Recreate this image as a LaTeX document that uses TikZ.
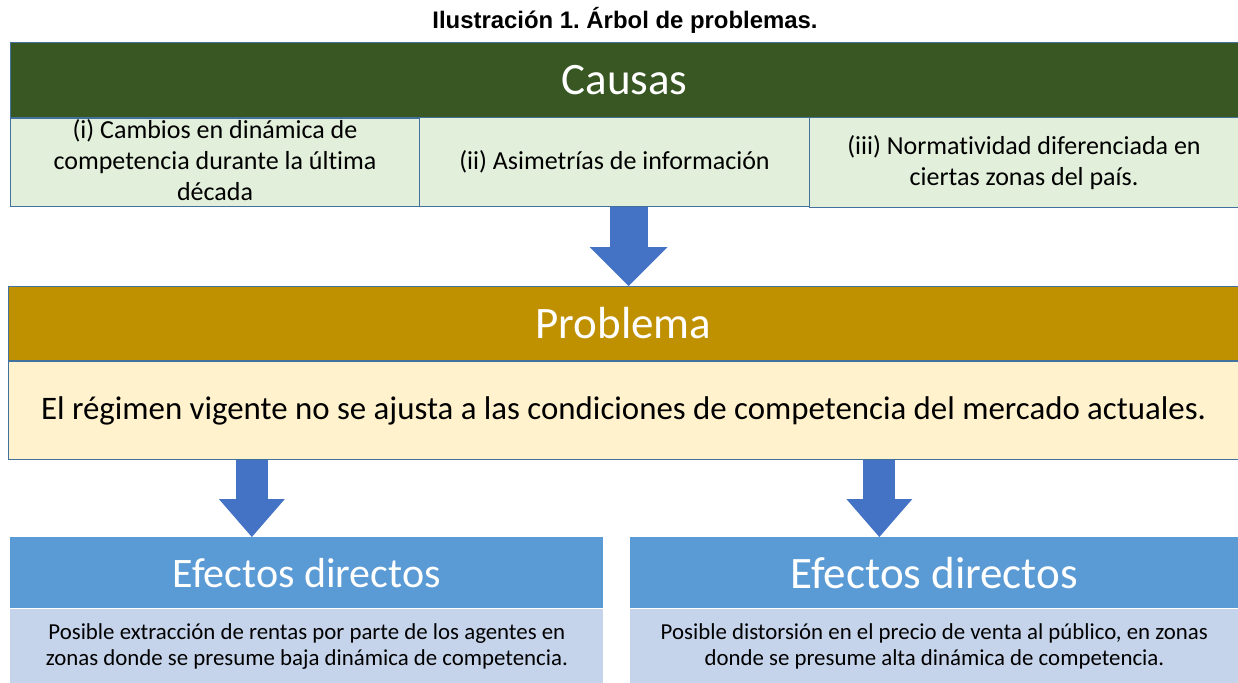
\documentclass[tikz,border=0pt]{standalone}
\usepackage{fontspec}
\setmainfont{Carlito}[Ligatures=NoCommon]
\newfontfamily\titlefont{Liberation Sans}
\usetikzlibrary{arrows.meta,positioning}
\frenchspacing

\definecolor{causegreen}{HTML}{385723}
\definecolor{causefill}{HTML}{E2EFDA}
\definecolor{probgold}{HTML}{BF9000}
\definecolor{probfill}{HTML}{FFF2CC}
\definecolor{effblue}{HTML}{5B9BD5}
\definecolor{efffill}{HTML}{C6D4EB}
\definecolor{boxline}{HTML}{41719C}
\definecolor{arrowblue}{HTML}{4472C4}

\begin{document}
\begin{tikzpicture}
    [inner sep=0pt,
    header/.style={rectangle,anchor=north west,draw=boxline,line width=0.6pt,text=white,
        font=\fontsize{25.6}{30}\selectfont},
    cause/.style={rectangle,anchor=north west,draw=boxline,line width=0.6pt,fill=causefill,
        align=center,font=\fontsize{14.8}{17.6}\selectfont},
    effhead/.style={rectangle,anchor=north west,fill=effblue,text=white,minimum height=1.42cm},
    effbody/.style={rectangle,anchor=north west,fill=efffill,align=center,minimum height=1.48cm,
        font=\fontsize{13}{14.8}\selectfont},
    bigarrow/.style={draw=arrowblue,line width=0.76cm,
        -{Triangle[width=1.56cm,length=0.78cm,line width=0pt,fill=arrowblue]}},
    smallarrow/.style={draw=arrowblue,line width=0.64cm,
        -{Triangle[width=1.32cm,length=0.76cm,line width=0pt,fill=arrowblue]}}]
    \useasboundingbox (0,0) rectangle (24.76,-13.64);

    \node (title) at (12.5,-0.4) {\titlefont\fontsize{13.6}{16}\selectfont\bfseries Ilustración 1. Árbol de problemas.};

    % causas
    \node (causas) at (0.2,-0.84) [header,fill=causegreen,minimum width=24.56cm,minimum height=1.5cm] {Causas};
    \node (c1) at (causas.south west) [cause,minimum width=8.18cm,minimum height=1.76cm,text depth=0.12cm]
        {(i) Cambios en dinámica de\\competencia durante la última\\década};
    \node (c2) at (8.38,-2.34) [cause,minimum width=7.8cm,minimum height=1.78cm]
        {(ii) Asimetrías de información};
    \node (c3) at (16.18,-2.34) [cause,minimum width=8.58cm,minimum height=1.8cm]
        {(iii) Normatividad diferenciada en\\ciertas zonas del país.};

    % problema
    \node (prob) at (0.16,-5.72) [header,fill=probgold,minimum width=24.6cm,minimum height=1.48cm] {Problema};
    \node (pbody) at (prob.south west) [rectangle,anchor=north west,draw=boxline,line width=0.6pt,
        fill=probfill,minimum width=24.6cm,minimum height=1.96cm,font=\fontsize{18.7}{22}\selectfont]
        {El régimen vigente no se ajusta a las condiciones de competencia del mercado actuales.};

    % efectos
    \node (e1) at (0.2,-10.74) [effhead,minimum width=11.86cm,font=\fontsize{23.9}{28}\selectfont] {Efectos directos};
    \node (e1b) at (e1.south west) [effbody,minimum width=11.86cm]
        {Posible extracción de rentas por parte de los agentes en\\zonas donde se presume baja dinámica de competencia.};
    \node (e2) at (12.6,-10.74) [effhead,minimum width=12.16cm,font=\fontsize{25.6}{30}\selectfont] {Efectos directos};
    \node (e2b) at (e2.south west) [effbody,minimum width=12.16cm]
        {Posible distorsión en el precio de venta al público, en zonas\\donde se presume alta dinámica de competencia.};

    % flechas
    \draw[bigarrow] ([xshift=0.1cm]c2.south -| prob.north) -- ([xshift=0.1cm]prob.north);
    \draw[smallarrow] ([xshift=-1.1cm]pbody.south -| e1.north) -- ([xshift=-1.1cm]e1.north);
    \draw[smallarrow] ([xshift=-1.1cm]pbody.south -| e2.north) -- ([xshift=-1.1cm]e2.north);
\end{tikzpicture}
\end{document}
